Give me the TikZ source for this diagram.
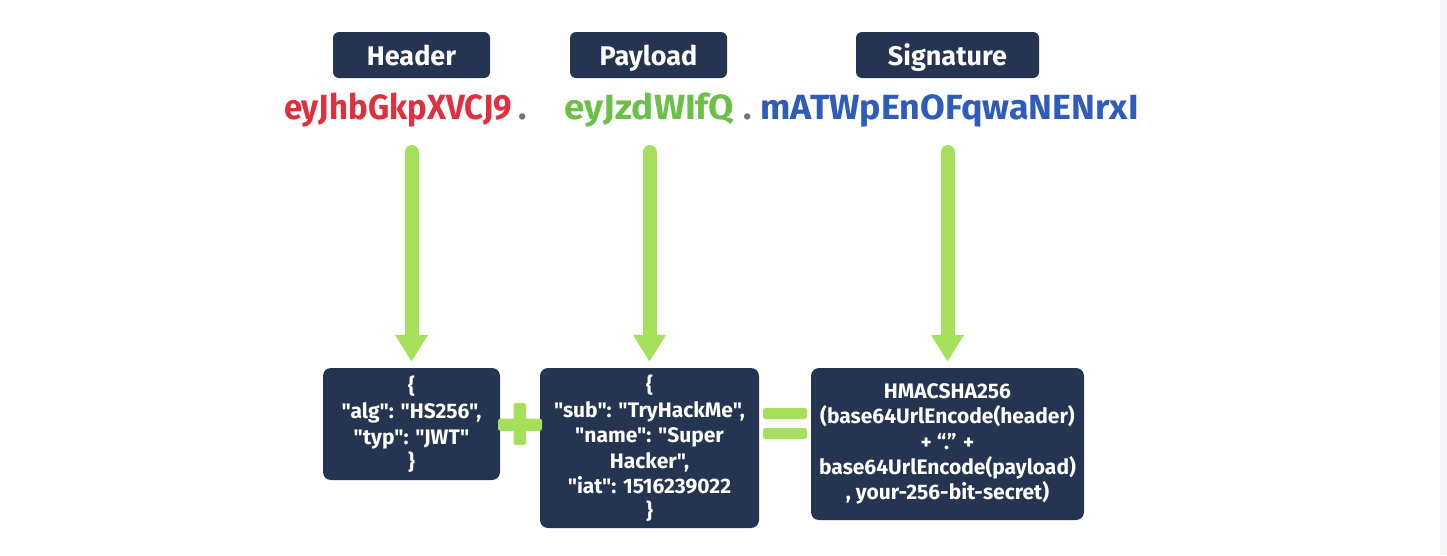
\documentclass[tikz,border=0pt]{standalone}
\usepackage{fontspec}
\setmainfont{Fira Sans}[Ligatures=TeXOff]
\usetikzlibrary{arrows.meta}
\definecolor{navy}{HTML}{243451}
\definecolor{lime}{HTML}{A6E05A}
\definecolor{tokred}{HTML}{E0303E}
\definecolor{tokgreen}{HTML}{6CC04A}
\definecolor{tokblue}{HTML}{2F5CB8}
\definecolor{dotgray}{HTML}{6E7480}
\definecolor{edgegray}{HTML}{F6F6F9}
\tikzset{
  partlabel/.style={fill=navy, rounded corners=6pt, text=white, inner sep=0pt,
    minimum height=46pt, text height=20pt, text depth=0pt,
    font=\bfseries\fontsize{27}{30}\selectfont},
  token/.style={anchor=base, inner sep=0pt, font=\bfseries\fontsize{35}{38}\selectfont},
  jsonbox/.style={fill=navy, rounded corners=8pt, text=white, inner sep=0pt,
    align=center, font=\bfseries\fontsize{21}{25.3}\selectfont},
  flow/.style={draw=lime, line width=14pt, line cap=round,
    -{Triangle[width=31pt,length=27pt]}},
  sym/.style={fill=lime, rounded corners=2.5pt}
}
\begin{document}
\begin{tikzpicture}[x=1pt,y=-1pt]
  % canvas
  \fill[white] (0,0) rectangle (1447,555);
  \fill[edgegray] (1440,0) rectangle (1447,555);

  % part labels
  \node[partlabel, minimum width=157pt] (hdr) at (411.5,55) {Header};
  \node[partlabel, minimum width=157pt] (pld) at (648.5,55) {Payload};
  \node[partlabel, minimum width=183pt] (sig) at (947.5,55) {Signature};

  % encoded token
  \node[token, text=tokred, xscale=0.94]   (t1) at (398,119)   {eyJhbGkpXVCJ9};
  \node[token, text=dotgray]  (d1) at (523,119)   {.};
  \node[token, text=tokgreen, xscale=1.05] (t2) at (649.5,119) {eyJzdWIfQ};
  \node[token, text=dotgray]  (d2) at (748,119)   {.};
  \node[token, text=tokblue, xscale=1.025]  (t3) at (949.5,119) {mATWpEnOFqwaNENrxI};

  % decoded parts
  \node[jsonbox, minimum width=177pt, minimum height=112pt] (b1) at (411.5,424)
    {\{\\"alg": "HS256",\\"typ": "JWT"\\\}};
  \node[jsonbox, minimum width=219pt, minimum height=160pt] (b2) at (649.5,448)
    {\{\\"sub": "TryHackMe",\\"name": "Super\\Hacker",\\"iat": 1516239022\\\}};
  \node[jsonbox, minimum width=273pt, minimum height=152pt] (b3) at (947.5,444)
    {HMACSHA256\\(base64UrlEncode(header)\\+ “.” +\\base64UrlEncode(payload)\\, your-256-bit-secret)};

  % arrows from token parts to decoded parts
  \draw[flow] ([yshift=-33pt]b1.north |- t1.base) -- ([yshift=6pt]b1.north);
  \draw[flow] ([yshift=-33pt]b2.north |- t2.base) -- ([yshift=6pt]b2.north);
  \draw[flow] ([yshift=-33pt]b3.north |- t3.base) -- ([yshift=6pt]b3.north);

  % plus sign
  \fill[sym] (498,418.5) rectangle (542,431);
  \fill[sym] (513.5,403) rectangle (526,445);
  % equals sign
  \fill[sym] (763,408) rectangle (807,419);
  \fill[sym] (763,428) rectangle (807,439);
\end{tikzpicture}
\end{document}
